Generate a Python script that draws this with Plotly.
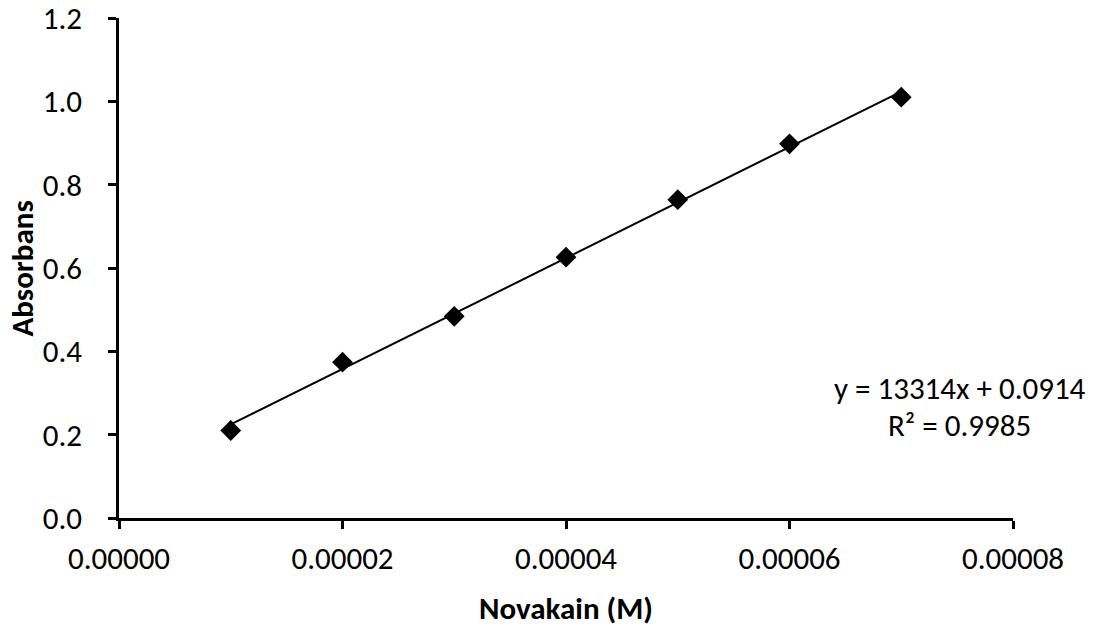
import plotly.graph_objects as go

# Data
concentration_M = [0.00001, 0.00002, 0.00003, 0.00004, 0.00005, 0.00006, 0.00007]
absorbance = [0.210, 0.374, 0.484, 0.626, 0.764, 0.898, 1.010]

slope = 13314
intercept = 0.0914
eq_text = "y = 13314x + 0.0914"
r2_text = "R² = 0.9985"

x_title = "Novakain (M)"
y_title = "Absorbans"

x_ticks = [0, 0.00002, 0.00004, 0.00006, 0.00008]
y_ticks = [0.0, 0.2, 0.4, 0.6, 0.8, 1.0, 1.2]

FONT = "Calibri, Carlito, Lato, sans-serif"
FS = 31
TICK_FS = 31

trend_x = [concentration_M[0], concentration_M[-1]]
trend_y = [slope * v + intercept for v in trend_x]

fig = go.Figure()
fig.add_trace(go.Scatter(x=trend_x, y=trend_y, mode="lines",
                         line=dict(color="black", width=2), showlegend=False,
                         hoverinfo="skip"))
fig.add_trace(go.Scatter(x=concentration_M, y=absorbance, mode="markers",
                         marker=dict(symbol="diamond", size=16, color="black"),
                         showlegend=False))

axis_common = dict(showgrid=False, zeroline=False, showline=True, linecolor="black",
                   linewidth=2.5, ticks="outside", ticklen=8, tickwidth=2.5,
                   tickcolor="black", automargin=False, ticklabeloverflow="allow",
                   tickfont=dict(family=FONT, size=TICK_FS, color="black"))

fig.update_xaxes(range=[0, 0.00008], tickvals=x_ticks, tickformat=".5f",
                 ticklabelstandoff=3, **axis_common)
fig.update_yaxes(range=[0, 1.2], tickvals=y_ticks, tickformat=".1f",
                 ticklabelstandoff=20, **axis_common)

fig.add_annotation(text=f"<b>{x_title}</b>", xref="paper", yref="paper",
                   x=0.5, y=-0.18, xanchor="center", yanchor="middle",
                   showarrow=False, font=dict(family=FONT, size=FS, color="black"))
fig.add_annotation(text=f"<b>{y_title}</b>", xref="paper", yref="paper",
                   x=-0.108, y=0.5, xanchor="center", yanchor="middle", textangle=-90,
                   showarrow=False, font=dict(family=FONT, size=FS, color="black"))
fig.add_annotation(text=eq_text, xref="paper", yref="paper",
                   x=0.9407, y=0.26, xanchor="center", yanchor="middle",
                   showarrow=False, font=dict(family=FONT, size=FS, color="black"))
fig.add_annotation(text=r2_text, xref="paper", yref="paper",
                   x=0.9407, y=0.186, xanchor="center", yanchor="middle",
                   showarrow=False, font=dict(family=FONT, size=FS, color="black"))

fig.update_layout(width=1101, height=628, plot_bgcolor="white", paper_bgcolor="white",
                  margin=dict(l=119, r=88, t=18, b=110, autoexpand=False),
                  font=dict(family=FONT))

fig.write_html("out.html", config={"displayModeBar": False},
               post_script="document.body.style.margin='0';document.body.style.overflow='hidden';")
